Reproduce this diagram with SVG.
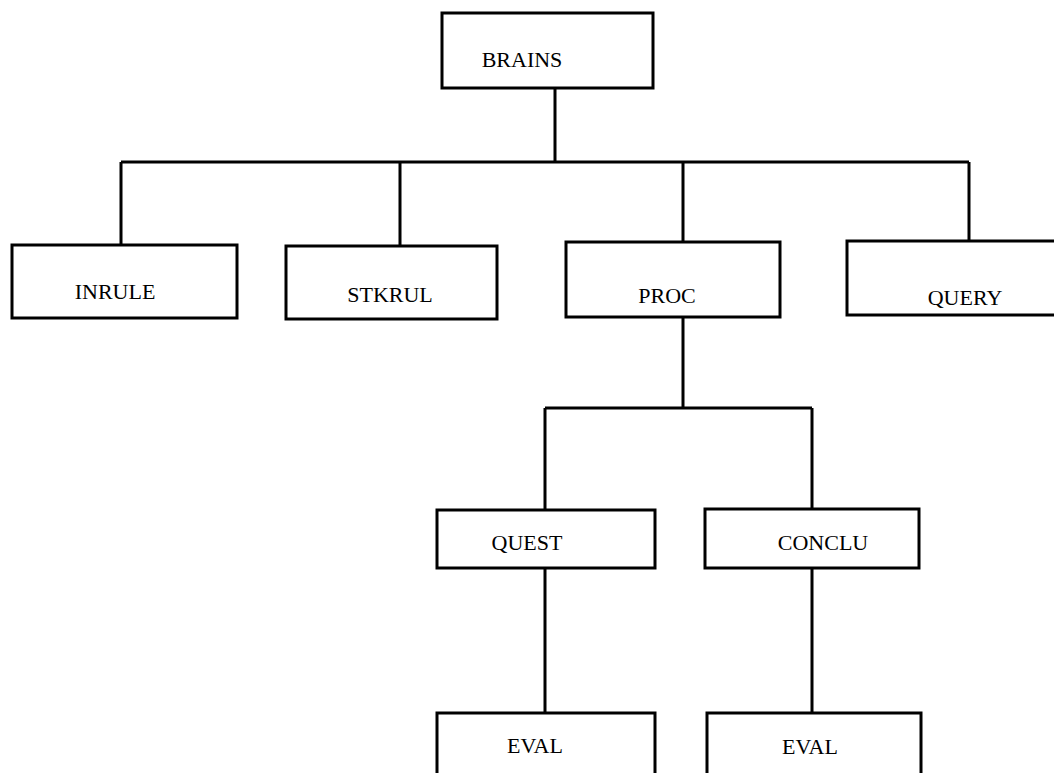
<svg xmlns="http://www.w3.org/2000/svg" width="1054" height="773" viewBox="0 0 1054 773">
<style>
.box{fill:#fff;stroke:#000;stroke-width:3}
.lbl{font-family:"Liberation Serif","DejaVu Serif",serif;font-size:22px;fill:#000;text-anchor:middle}
.con{fill:none;stroke:#000;stroke-width:3}
</style>
<rect width="1054" height="773" fill="#fff"/>
<g id="connectors">
<path class="con" d="M555 88V162M121 162H969M121 162V245M400 162V245M683 162V242M969 162V241"/>
<path class="con" d="M683 317V408M545 408H812M545 408V510M812 408V510"/>
<path class="con" d="M545 568V713M812 568V713"/>
</g>
<g id="brains"><rect class="box" x="442" y="13" width="211" height="75"/><text class="lbl" x="522" y="67">BRAINS</text></g>
<g id="inrule"><rect class="box" x="12" y="245" width="225" height="73"/><text class="lbl" x="115" y="299">INRULE</text></g>
<g id="stkrul"><rect class="box" x="286" y="246" width="211" height="73"/><text class="lbl" x="390" y="302">STKRUL</text></g>
<g id="proc"><rect class="box" x="566" y="242" width="214" height="75"/><text class="lbl" x="667" y="303">PROC</text></g>
<g id="query"><rect class="box" x="847" y="241" width="212" height="74"/><text class="lbl" x="965" y="305">QUERY</text></g>
<g id="quest"><rect class="box" x="437" y="510" width="218" height="58"/><text class="lbl" x="527" y="550">QUEST</text></g>
<g id="conclu"><rect class="box" x="705" y="509" width="214" height="59"/><text class="lbl" x="823" y="550">CONCLU</text></g>
<g id="eval1"><rect class="box" x="437" y="713" width="218" height="80"/><text class="lbl" x="535" y="753">EVAL</text></g>
<g id="eval2"><rect class="box" x="707" y="713" width="214" height="80"/><text class="lbl" x="810" y="754">EVAL</text></g>
</svg>
